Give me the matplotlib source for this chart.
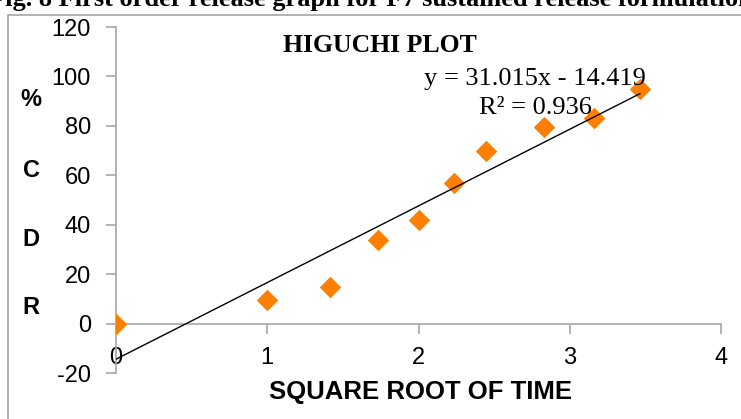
import matplotlib
matplotlib.use("Agg")
import matplotlib.pyplot as plt
import numpy as np
from matplotlib.patches import Rectangle

plt.rcParams["axes.unicode_minus"] = False

# square root of time vs % CDR
sqrt_time = [0, 1, 1.414, 1.732, 2, 2.236, 2.449, 2.828, 3.162, 3.464]
cdr = [0, 9.5, 15, 34, 42, 57, 70, 79.5, 83, 95]
slope, intercept = 31.015, -14.419
eq_text = "y = 31.015x - 14.419"
r2_text = "R\u00b2 = 0.936"
x_ticks = [0, 1, 2, 3, 4]
y_ticks = [-20, 0, 20, 40, 60, 80, 100, 120]
ylabel_letters = ["%", "C", "D", "R"]

W, H = 741, 419
fig = plt.figure(figsize=(W / 100, H / 100), dpi=100)

# chart border
fig.patches.append(Rectangle((8 / W, -0.1), 1, (H - 15) / H + 0.1, transform=fig.transFigure,
                             fill=False, edgecolor="#a6a6a6", linewidth=1.2))

# caption cut off at the top edge, as in the source image
fig.text(0.5, 1 - 6 / H, "Fig. 8 First order release graph for F7 sustained release formulation",
         ha="center", va="baseline", fontsize=19, fontweight="bold", family="Liberation Serif")

left, right = 116 / W, 721 / W
bottom, top = (H - 373) / H, (H - 27) / H
ax = fig.add_axes([left, bottom, right - left, top - bottom])

ax.scatter(sqrt_time, cdr, marker="D", s=120, color="#ff7f00", zorder=3, linewidths=0)
xs = np.array([sqrt_time[0], sqrt_time[-1]])
ax.plot(xs, slope * xs + intercept, color="black", linewidth=1, zorder=4)

ax.set_xlim(0, 4)
ax.set_ylim(-20, 120)
ax.set_xticks(x_ticks)
ax.set_yticks(y_ticks)

for s in ["top", "right"]:
    ax.spines[s].set_visible(False)
ax.spines["bottom"].set_position(("data", 0))
for s in ["bottom", "left"]:
    ax.spines[s].set_color("#a6a6a6")
    ax.spines[s].set_linewidth(1.2)
ax.tick_params(axis="both", colors="#a6a6a6", length=7, width=1.2, labelcolor="black",
               labelsize=17)
ax.tick_params(axis="x", pad=10)
ax.tick_params(axis="y", pad=11)
for lab in ax.get_xticklabels() + ax.get_yticklabels():
    lab.set_family("Liberation Sans")

fig.text(421 / W, 1 - 392 / H, "SQUARE ROOT OF TIME", ha="center", va="center",
         fontsize=18.5, fontweight="bold", family="Liberation Sans")

fig.text(380 / W, 1 - 45 / H, "HIGUCHI PLOT", ha="center", va="center",
         fontsize=18.5, fontweight="bold", family="Liberation Serif")
ax.text(2.77, 98.8, eq_text, ha="center", va="center", fontsize=19, family="Liberation Serif")
ax.text(2.77, 87.4, r2_text, ha="center", va="center", fontsize=19, family="Liberation Serif")

for letter, ypx in zip(ylabel_letters, [99, 170, 239, 307]):
    fig.text(31 / W, 1 - ypx / H, letter, ha="center", va="center", fontsize=17,
             fontweight="bold", family="Liberation Sans")

fig.savefig("out.png", dpi=100)
